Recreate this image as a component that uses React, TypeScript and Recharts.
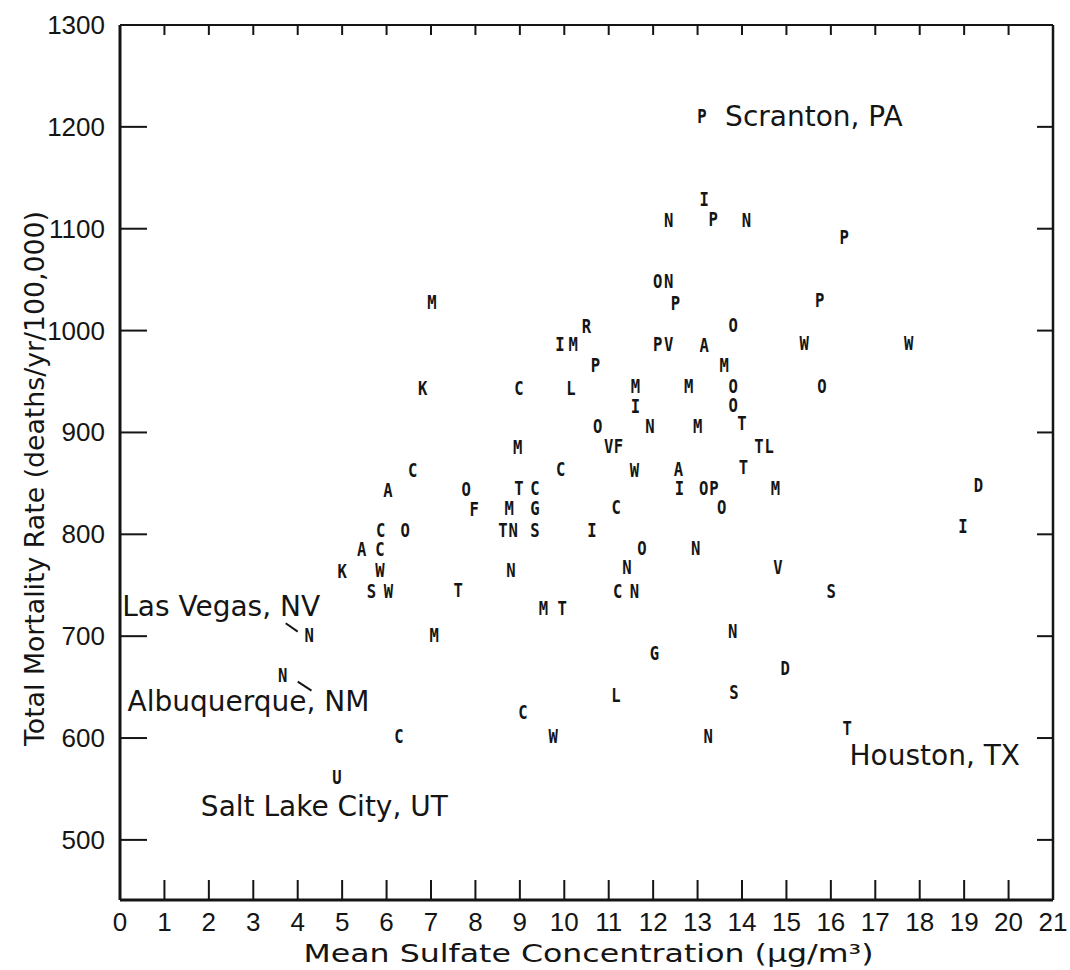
import React from 'react';
import { ScatterChart, Scatter, XAxis, YAxis, ReferenceLine } from 'recharts';

// one letter per city (state initial)
const cityCodes = [
  'M', 'P', 'I', 'N', 'P', 'N', 'P', 'O', 'N', 'P', 'P', 'R', 'O',
  'I', 'M', 'P', 'V', 'A', 'W', 'W', 'P', 'M', 'L', 'M', 'M', 'O', 'O',
  'I', 'O', 'O', 'N', 'M', 'T', 'V', 'F', 'T', 'L', 'C', 'W', 'A', 'T',
  'I', 'O', 'P', 'M', 'D', 'T', 'C', 'C', 'O', 'M', 'G', 'T', 'N', 'S',
  'I', 'O', 'N', 'N', 'V', 'C', 'N', 'S', 'M', 'T', 'N', 'G', 'K', 'C',
  'M', 'C', 'A', 'O', 'F', 'C', 'O', 'A', 'C', 'K', 'W', 'S', 'W', 'T',
  'N', 'N', 'M', 'N', 'C', 'C', 'U', 'W', 'L', 'S', 'D', 'N', 'T', 'I',
];

// mean sulfate, ug/m3
const sulfate = [
  7.02, 13.1, 13.15, 12.35, 13.35, 14.1, 16.3, 12.1, 12.35, 12.5, 15.75, 10.5, 13.8,
  9.9, 10.2, 12.1, 12.35, 13.15, 15.4, 17.75, 10.7, 13.6, 10.15, 11.6, 12.8, 13.8, 15.8,
  11.6, 13.8, 10.75, 11.93, 13.0, 14.0, 11.0, 11.22, 14.38, 14.61, 9.92, 11.58, 12.57, 14.03,
  12.59, 13.14, 13.37, 14.75, 19.32, 8.98, 9.34, 11.17, 13.54, 8.76, 9.34, 8.62, 8.85, 9.34,
  10.62, 11.75, 12.96, 11.41, 14.81, 11.2, 11.58, 16.01, 9.53, 9.95, 13.79, 12.03, 6.81, 8.98,
  8.95, 6.59, 6.03, 7.79, 7.97, 5.87, 6.42, 5.44, 5.85, 5.0, 5.85, 5.66, 6.04, 7.61,
  8.8, 4.26, 7.07, 3.66, 6.28, 9.07, 4.88, 9.75, 11.16, 13.82, 14.97, 13.24, 16.37, 18.97,
];

// total mortality, deaths/yr/100,000
const mortality = [
  1028, 1210, 1129, 1108, 1109, 1108, 1091, 1048, 1048, 1027, 1030, 1004, 1005,
  986, 986, 986, 986, 985, 987, 987, 966, 966, 943, 945, 945, 945, 945,
  926, 927, 906, 906, 906, 909, 886, 886, 886, 886, 864, 863, 864, 866,
  845, 845, 845, 845, 848, 845, 845, 826, 826, 825, 825, 804, 804, 804,
  804, 786, 786, 767, 767, 744, 744, 744, 727, 727, 705, 683, 943, 943,
  885, 863, 843, 844, 824, 804, 804, 785, 785, 764, 765, 744, 744, 745,
  765, 701, 701, 661, 602, 625, 561, 602, 642, 645, 668, 602, 609, 808,
];

const xTicks = [0, 1, 2, 3, 4, 5, 6, 7, 8, 9, 10, 11, 12, 13, 14, 15, 16, 17, 18, 19, 20, 21];
const yTicks = [500, 600, 700, 800, 900, 1000, 1100, 1200, 1300];

const noteText = ['Scranton, PA', 'Las Vegas, NV', 'Albuquerque, NM', 'Houston, TX', 'Salt Lake City, UT'];
const noteX = [13.62, 0.05, 0.17, 16.42, 1.82];
const noteY = [1210, 729, 636, 583, 533];

const leaderFrom = [{ x: 3.73, y: 712.7 }, { x: 4.0, y: 655.4 }];
const leaderTo = [{ x: 4.0, y: 704.5 }, { x: 4.31, y: 646.6 }];

const points = cityCodes.map((code, i) => ({ code, x: sulfate[i], y: mortality[i] }));
const notes = noteText.map((text, i) => ({ text, x: noteX[i], y: noteY[i] }));

const W = 1070;
const H = 970;
const TOP = 25;
const LEFT = 120;
const RIGHT = 17;
const PLOT_RIGHT = W - RIGHT;
const INK = '#151515';
const TICK_FONT = "'Liberation Sans Narrow', 'Arial Narrow', sans-serif";
const TEXT_FONT = "'DejaVu Sans', sans-serif";
const MARK_FONT = "'DejaVu Sans Mono', monospace";

const XTick = (props: any) => {
  const { x, y, payload } = props;
  return (
    <g>
      <line x1={x} y1={y} x2={x} y2={y - 20} stroke={INK} strokeWidth={2} />
      <line x1={x} y1={TOP} x2={x} y2={TOP + 10} stroke={INK} strokeWidth={2} />
      <text x={x} y={y + 22} textAnchor="middle" dominantBaseline="central"
        fontFamily={TICK_FONT} fontSize={26} fill={INK}>
        {payload.value}
      </text>
    </g>
  );
};

const YTick = (props: any) => {
  const { x, y, payload } = props;
  return (
    <g>
      <line x1={x} y1={y} x2={x + 27} y2={y} stroke={INK} strokeWidth={2} />
      {payload.value < 1300 && (
        <line x1={PLOT_RIGHT - 16} y1={y} x2={PLOT_RIGHT} y2={y} stroke={INK} strokeWidth={2} />
      )}
      <text x={x - 15} y={y} textAnchor="end" dominantBaseline="central"
        fontFamily={TICK_FONT} fontSize={26} fill={INK}>
        {payload.value}
      </text>
    </g>
  );
};

const XTitle = (props: any) => {
  const vb = props.viewBox || { x: LEFT, y: 900, width: PLOT_RIGHT - LEFT, height: 70 };
  return (
    <text x={vb.x + vb.width / 2 + 2} y={vb.y + 62} textAnchor="middle"
      fontFamily={TEXT_FONT} fontSize={25} fill={INK}
      textLength={570} lengthAdjust="spacingAndGlyphs">
      Mean Sulfate Concentration (μg/m³)
    </text>
  );
};

const YTitle = (props: any) => {
  const vb = props.viewBox || { x: 0, y: TOP, width: LEFT, height: 875 };
  const cy = vb.y + vb.height / 2 + 16;
  return (
    <text x={44} y={cy} transform={`rotate(-90 44 ${cy})`} textAnchor="middle"
      fontFamily={TEXT_FONT} fontSize={26} fill={INK}
      textLength={535} lengthAdjust="spacingAndGlyphs">
      Total Mortality Rate (deaths/yr/100,000)
    </text>
  );
};

const Letter = (props: any) => {
  const { cx, cy, payload } = props;
  return (
    <text transform={`translate(${cx} ${cy}) scale(0.82 1)`} x={0} y={0}
      textAnchor="middle" dominantBaseline="central"
      fontFamily={MARK_FONT} fontWeight={700} fontSize={19} fill={INK}>
      {payload.code}
    </text>
  );
};

const Note = (props: any) => {
  const { cx, cy, payload } = props;
  return (
    <text x={cx} y={cy} textAnchor="start" dominantBaseline="central"
      fontFamily={TEXT_FONT} fontSize={28} fill={INK}>
      {payload.text}
    </text>
  );
};

export default function App() {
  return (
    <div style={{ position: 'absolute', left: 0, top: 0, width: W, height: H, background: '#fff' }}>
      <ScatterChart width={W} height={H} margin={{ top: TOP, right: RIGHT, left: 0, bottom: 0 }}>
        <XAxis type="number" dataKey="x" domain={[0, 21]} ticks={xTicks} interval={0}
          height={70} tickSize={0} tickMargin={0} tickLine={false}
          axisLine={{ stroke: INK, strokeWidth: 3 }} tick={<XTick />} label={<XTitle />} />
        <YAxis type="number" dataKey="y" domain={[441, 1300]} ticks={yTicks} interval={0}
          width={LEFT} tickSize={0} tickMargin={0} tickLine={false}
          axisLine={{ stroke: INK, strokeWidth: 3 }} tick={<YTick />} label={<YTitle />} />
        <ReferenceLine y={1300} stroke={INK} strokeWidth={2} />
        <ReferenceLine x={21} stroke={INK} strokeWidth={2.5} />
        {leaderFrom.map((p, i) => (
          <ReferenceLine key={i} segment={[p, leaderTo[i]]} stroke={INK} strokeWidth={2} />
        ))}
        <Scatter data={points} shape={<Letter />} isAnimationActive={false} />
        <Scatter data={notes} shape={<Note />} isAnimationActive={false} />
      </ScatterChart>
    </div>
  );
}
